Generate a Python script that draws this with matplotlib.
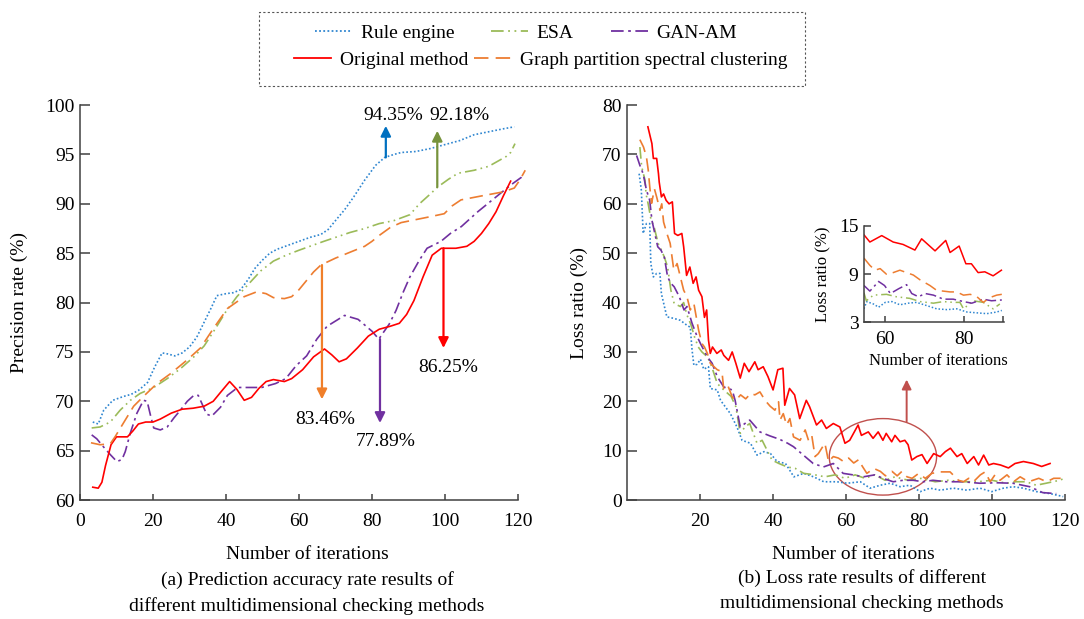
import matplotlib
matplotlib.use("Agg")
import matplotlib.pyplot as plt
from matplotlib.lines import Line2D
from matplotlib.patches import Ellipse, Rectangle

plt.rcParams['font.family'] = ['Liberation Serif', 'DejaVu Serif']
plt.rcParams['font.size'] = 14

# ---- colours / styles of the five methods ----
names = ['Rule engine', 'ESA', 'GAN-AM', 'Original method', 'Graph partition spectral clustering']
colors = ['#2f86d0', '#9BBB59', '#7030A0', '#FF0000', '#ED7D31']
styles = [(0, (1, 1.3)), (0, (7, 2.5, 1, 2.5, 1, 2.5)), (0, (7, 2.5, 1.5, 2.5)), '-', (0, (8, 4))]

# ---- (a) precision rate ----
it_rule = [3.5, 5, 6.5, 9, 12, 14, 16, 18.5, 20.5, 22.5, 24, 26, 28, 30, 32, 34, 36, 37.5, 40, 42,
           44, 46, 48, 50, 52, 54, 57, 60, 63, 66, 68, 70, 72.5, 75, 78, 81, 83.5, 86, 88, 92, 96,
           100, 104, 108, 112, 116, 119]
rule = [67.9, 67.7, 69.1, 70.1, 70.5, 70.7, 71.1, 71.9, 73.5, 74.9, 74.8, 74.6, 74.9, 75.5, 76.5,
        78.0, 79.5, 80.7, 80.9, 81.0, 81.3, 82.3, 83.5, 84.3, 85.0, 85.4, 85.8, 86.2, 86.6, 86.9,
        87.4, 88.3, 89.4, 90.7, 92.4, 93.9, 94.7, 95.0, 95.2, 95.3, 95.6, 96.0, 96.4, 97.0, 97.3,
        97.6, 97.8]

it_esa = [3.2, 5.5, 8.3, 11, 13.8, 16.5, 20.2, 23.9, 27.5, 31.2, 34, 37, 40, 43, 46, 49.5, 53,
          56.5, 60, 63, 66.8, 70, 74, 78, 82, 86, 90.4, 93, 96, 98, 101, 103.6, 108, 112, 116.8,
          118, 119.2]
esa = [67.3, 67.4, 67.9, 69.1, 70.1, 70.8, 71.4, 72.3, 73.3, 74.5, 75.6, 77.3, 79.1, 80.6, 81.8,
       83.2, 84.2, 84.8, 85.3, 85.7, 86.2, 86.6, 87.1, 87.5, 88.0, 88.3, 88.9, 90.0, 91.0, 91.7,
       92.5, 93.1, 93.4, 93.8, 94.8, 95.2, 96.1]

it_gan = [3.2, 4.6, 6.4, 8.3, 10.1, 11.5, 12.4, 13.8, 15.6, 17.4, 18.4, 19.3, 20.2, 22, 23.9, 25.7,
          27.5, 29.4, 31.2, 32.4, 34.7, 36.1, 38.5, 40.4, 43.2, 46, 49.8, 53.6, 56.4, 59.2, 62.1,
          64.9, 67.7, 72.5, 76.2, 80, 81.9, 82.8, 84.7, 86.6, 88.5, 90.4, 93, 95.1, 98.9, 101.5,
          104.5, 109, 114, 118, 121]
gan = [66.6, 66.2, 65.4, 64.6, 63.9, 64.1, 64.9, 66.8, 68.8, 70.1, 70.0, 68.6, 67.3, 67.1, 67.4,
       68.3, 69.1, 70.0, 70.6, 70.6, 68.7, 68.5, 69.4, 70.6, 71.4, 71.4, 71.4, 71.8, 72.3, 73.6,
       74.6, 76.3, 77.6, 78.7, 78.3, 77.1, 76.3, 76.8, 77.8, 79.2, 81.0, 82.6, 84.3, 85.5, 86.2,
       87.0, 87.7, 89.2, 90.7, 91.9, 92.7]

it_orig = [3.5, 5, 6, 7, 8.5, 10, 11.5, 13, 14.5, 16, 18, 20, 22, 25, 28, 31, 34, 36.5, 38.5, 41,
           43, 45, 47, 49, 51, 53, 56, 58, 61, 64, 67, 69, 71, 73, 76, 79, 82, 85, 87.5, 89.5, 91.5,
           94, 96.5, 99, 103, 106, 108, 110, 112, 114, 116, 118]
orig = [61.3, 61.2, 61.8, 63.5, 65.6, 66.4, 66.4, 66.4, 67.0, 67.7, 67.9, 67.9, 68.2, 68.8, 69.2,
        69.3, 69.5, 70.0, 70.9, 72.0, 71.2, 70.1, 70.4, 71.3, 72.0, 72.2, 72.0, 72.3, 73.2, 74.5,
        75.3, 74.7, 74.0, 74.3, 75.4, 76.6, 77.3, 77.6, 77.9, 78.8, 80.2, 82.6, 84.8, 85.5, 85.5,
        85.7, 86.2, 87.0, 88.0, 89.2, 90.8, 92.3]

it_gp = [3.0, 5.5, 8.3, 9.6, 11.9, 14.7, 17.4, 21.1, 24.8, 29.4, 33, 36.6, 40.4, 45, 48.5, 51, 53,
         56, 58, 60, 62, 64, 66, 70, 74, 78, 80, 82, 85, 88, 92, 96, 99.8, 102, 104.4, 110, 115.8,
         119, 120.5, 122]
gp = [65.8, 65.6, 65.7, 66.4, 67.8, 69.5, 70.5, 71.8, 72.8, 74.2, 75.4, 77.4, 79.4, 80.6, 81.1,
      80.9, 80.5, 80.4, 80.6, 81.3, 82.2, 83.1, 83.8, 84.5, 85.1, 85.7, 86.2, 86.8, 87.6, 88.1,
      88.4, 88.7, 89.0, 89.8, 90.4, 90.8, 91.2, 91.6, 92.4, 93.4]

# annotated values: (x of arrow, y start, y tip, text x, text y, label, colour)
notes_a = [
    (83.8, 94.7, 97.9, 85.7, 98.9, '94.35%', '#0070C0'),
    (97.9, 91.7, 97.4, 104.1, 98.9, '92.18%', '#77933C'),
    (66.3, 83.8, 70.2, 67.3, 68.2, '83.46%', '#F07F2A'),
    (82.2, 76.3, 67.8, 83.8, 65.9, '77.89%', '#7030A0'),
    (99.6, 85.5, 75.4, 100.9, 73.4, '86.25%', '#FF0000'),
]

# ---- (b) loss ratio ----
it_rule_l = [3.3, 3.9, 4.4, 5.3, 6.2, 6.5, 7.2, 8.1, 9, 9.4, 10.9, 12.8, 14.6, 16.4, 17.3, 17.8,
             18.3, 19.2, 20.1, 21, 22.3, 22.8, 24.7, 25.6, 26.9, 28.3, 30.1, 31.5, 33.8, 35.6, 37.5,
             39.3, 41.1, 43.4, 45.7, 48.4, 51.1, 53.9, 57.5, 60.3, 63.9, 66.6, 69.4, 72.1, 74.8,
             77.5, 80.3, 83, 85.8, 89.4, 93.1, 96.7, 99.9, 103.1, 105.8, 108.6, 112.2, 115.9, 119.5]
rule_l = [66.1, 62.8, 54.0, 56.0, 56.0, 47.9, 45.2, 45.9, 45.9, 41.8, 37.1, 36.8, 36.4, 35.4, 35.0,
          30.4, 27.3, 27.5, 28.5, 26.5, 27.0, 22.6, 22.3, 20.2, 18.9, 17.5, 14.8, 12.1, 11.5, 9.1,
          9.8, 9.4, 7.8, 7.4, 4.7, 5.4, 4.7, 3.7, 3.7, 3.4, 3.7, 2.4, 3.0, 3.4, 2.7, 3.0, 1.7, 2.4,
          2.0, 2.4, 2.0, 2.4, 1.7, 2.4, 2.7, 2.4, 1.7, 1.3, 0.7]

it_esa_l = [3.5, 4, 4.9, 5.2, 5.8, 6.5, 7.5, 8.5, 9.5, 10.3, 11.1, 12, 12.9, 14.6, 15.5, 16.4, 17.5,
            18.5, 19.5, 20.5, 22, 23.2, 24.7, 26.5, 28.5, 29.8, 31, 32.3, 33.6, 35.6, 37, 39.7, 41.6,
            43.9, 46.1, 48.4, 51.5, 54.2, 57, 59.7, 62.5, 65.2, 67.9, 70.7, 73.4, 77, 80.7, 84.4,
            88, 92, 96, 100, 104, 106.5, 109.4, 112.1, 114.8, 118.5, 119.9]
esa_l = [71.5, 67.5, 64.8, 62.0, 59.9, 57.0, 55.0, 52.0, 50.5, 49.0, 47.2, 42.5, 39.8, 39.2, 40.0,
         37.5, 35.5, 33.0, 31.0, 30.0, 29.0, 27.0, 23.6, 22.3, 21.0, 18.9, 13.5, 14.8, 15.5, 11.5,
         12.1, 8.1, 7.4, 6.7, 6.4, 5.4, 5.1, 4.7, 5.1, 4.4, 5.1, 4.4, 5.1, 4.0, 4.7, 4.0, 4.4, 3.7,
         4.0, 3.7, 3.7, 4.0, 3.4, 3.7, 3.7, 3.0, 3.4, 4.0, 4.4]

it_gan_l = [2.6, 3.5, 4.4, 5.3, 6.2, 6.8, 7.6, 8.4, 9.3, 10.2, 11.1, 12, 12.9, 14.3, 15.6, 16.4,
            17.8, 19.2, 20.1, 22, 23.3, 24.7, 26.5, 28.8, 29.6, 31, 32.3, 33.6, 36.4, 39.1, 41.8,
            44, 45.6, 48.3, 51, 53.8, 56.5, 59.2, 61.9, 64.7, 67.9, 70.1, 72.9, 75.6, 78.4, 81.1,
            83.8, 87.5, 92, 96.6, 101.1, 105.7, 110.3, 113.9, 117.6]
gan_l = [69.8, 67.8, 66.1, 62.8, 60.7, 56.7, 54.0, 51.3, 50.6, 49.2, 45.2, 43.9, 43.2, 41.2, 38.5,
         39.2, 35.8, 33.1, 31.7, 29.0, 27.7, 25.0, 22.9, 22.3, 20.2, 14.8, 15.5, 16.2, 13.8, 13.0,
         12.3, 11.5, 10.8, 9.1, 7.4, 6.7, 7.4, 5.4, 5.1, 4.7, 5.1, 4.4, 3.7, 4.0, 4.0, 3.7, 4.0,
         3.7, 3.7, 3.4, 3.5, 3.4, 2.7, 1.5, 1.3]

it_orig_l = [5.7, 6.8, 7.2, 8.1, 8.6, 8.8, 9.4, 10, 10.7, 11.5, 12.4, 13, 13.9, 15, 15.5, 16.3, 17.2,
             18.1, 18.9, 19.6, 20.5, 21.2, 21.8, 22.3, 22.8, 23.4, 24.6, 25.8, 26.5, 27.8, 28.8,
             29.8, 31, 32.1, 33.4, 35, 35.9, 37.3, 38.6, 40, 41.3, 42.7, 43.2, 44.5, 45.9, 47.3,
             49.1, 50, 51.9, 53.3, 54.6, 56.5, 58.3, 59.7, 61, 63.3, 64.2, 66.1, 67.4, 68.8, 70.1,
             71, 72.5, 73.4, 74.8, 76.1, 77, 78, 79.4, 80.8, 82.2, 84, 85.8, 87.2, 88.6, 90.4, 91.7,
             93.2, 95, 96.3, 97.7, 99.1, 100.4, 102.3, 104.5, 106.3, 108.6, 111.3, 113.6, 115.9]
orig_l = [75.6, 72.2, 69.2, 69.2, 66.1, 64.4, 61.4, 62.0, 60.7, 60.0, 60.4, 54.0, 53.6, 54.0, 51.3,
          45.5, 47.2, 43.9, 45.2, 42.5, 41.2, 37.0, 38.5, 32.4, 29.7, 31.0, 29.7, 30.4, 29.3, 28.3,
          30.0, 27.7, 24.7, 27.7, 26.0, 28.0, 26.4, 27.0, 25.0, 22.3, 26.4, 26.7, 19.2, 22.6, 21.3,
          16.5, 20.2, 18.9, 15.2, 16.2, 14.5, 15.5, 14.8, 11.5, 12.1, 15.2, 13.1, 13.8, 12.5, 13.8,
          12.1, 13.5, 11.8, 13.1, 11.8, 12.1, 11.2, 8.1, 8.8, 9.2, 7.4, 9.4, 8.8, 9.8, 10.5, 8.8,
          9.4, 7.4, 8.8, 7.1, 9.1, 7.1, 7.4, 7.1, 6.5, 7.4, 7.8, 7.4, 6.8, 7.4]

it_gp_l = [3.5, 4.5, 5.3, 5.8, 6.2, 6.7, 7.5, 8.1, 9, 9.5, 10, 10.9, 11.8, 12.8, 13.7, 14.6, 15.5,
           16.4, 17.3, 18.3, 19.6, 20.5, 21.2, 22, 22.8, 24.7, 26, 26.5, 27.7, 28.8, 29.8, 31.1,
           32.5, 33.9, 35, 36.4, 37.8, 39.2, 40.5, 41.5, 41.9, 42.8, 43.7, 44.6, 45.6, 47.4, 48.8,
           49.7, 50.6, 51.5, 52.4, 54.2, 55.2, 56.5, 57.9, 59.3, 60.7, 62.1, 63.5, 64.4, 65.7,
           67.6, 69.4, 70.8, 72.6, 74, 75.3, 76.7, 78.1, 79.9, 81.7, 83.5, 85.8, 88.5, 90.8, 92.2,
           93.6, 94.9, 96.8, 98.1, 99.5, 100.8, 102.2, 104.1, 105.9, 107.7, 110, 112.8, 115,
           116.9, 118.8]
gp_l = [73.0, 71.5, 69.5, 66.8, 63.5, 60.1, 63.0, 61.4, 58.7, 60.0, 56.3, 54.0, 52.0, 46.6, 47.9,
        45.2, 42.5, 41.2, 38.5, 39.8, 34.4, 31.7, 31.0, 29.7, 27.7, 26.4, 26.0, 22.3, 23.0, 20.9,
        20.2, 21.3, 20.5, 21.6, 21.3, 21.9, 20.2, 19.0, 18.2, 19.9, 16.2, 17.5, 15.2, 16.5, 12.8,
        12.1, 14.2, 12.1, 13.1, 8.8, 9.4, 11.5, 7.8, 8.8, 8.5, 7.8, 8.5, 7.5, 8.2, 6.9, 5.4, 6.4,
        5.8, 4.9, 5.8, 4.9, 5.8, 4.7, 4.4, 5.4, 4.4, 5.4, 5.7, 5.7, 4.0, 3.7, 4.4, 3.7, 5.1, 5.7,
        3.7, 5.1, 4.0, 5.1, 3.7, 4.7, 3.7, 4.4, 3.7, 4.4, 4.4]

# ---- inset of (b), iterations 55-90 ----
in_it_rule = [54.7, 55.4, 57.1, 58.4, 60.1, 61.8, 63.8, 65.9, 68, 70.6, 73.1, 75.7, 78.2, 80.8,
              83.3, 85.8, 88.3, 89.6]
in_rule = [4.7, 5.6, 5.3, 4.9, 5.5, 5.6, 5.2, 5.4, 5.5, 5.1, 4.7, 4.6, 4.7, 4.3, 4.2, 4.1, 4.3, 4.5]
in_it_esa = [54.7, 55.3, 57.1, 60.4, 62.9, 66.3, 68.9, 72.3, 74.8, 77.3, 79, 79.9, 82.4, 84.9,
             87.4, 89.1]
in_esa = [6.7, 5.7, 6.4, 6.5, 6.2, 6.0, 5.6, 5.4, 5.6, 5.5, 5.5, 4.7, 5.7, 5.5, 4.7, 5.3]
in_it_gan = [54.7, 56.2, 58.4, 59.9, 61.4, 63.5, 65.5, 66.8, 68.5, 70.2, 72.3, 74.8, 77.3, 79.9,
             82, 84.9, 87, 89.6]
in_gan = [7.6, 6.9, 8.1, 7.6, 6.6, 7.2, 7.7, 6.6, 6.2, 6.6, 6.4, 5.9, 5.9, 5.6, 5.4, 5.9, 5.7, 5.8]
in_it_orig = [54.7, 56.2, 59.2, 62.1, 64.6, 67.6, 69.3, 72.7, 75.4, 76.5, 78.8, 80.5, 81.9, 83.6,
              85.3, 87.4, 89.5]
in_orig = [13.9, 13.0, 13.8, 13.0, 12.7, 12.0, 13.4, 11.9, 13.2, 11.7, 12.5, 10.3, 10.3, 9.2, 9.3,
           8.8, 9.5]
in_it_gp = [54.7, 56.2, 57.5, 58.8, 60.4, 62.1, 63.8, 65.5, 67.2, 68.9, 71.4, 73.1, 74.8, 76.5,
            78.2, 79.9, 81.6, 83.3, 84.9, 86.6, 88.3, 89.6]
in_gp = [11.0, 10.1, 9.5, 9.7, 9.0, 9.2, 9.5, 9.2, 8.9, 8.3, 7.6, 7.0, 6.9, 6.8, 6.8, 6.4, 6.5,
         6.2, 5.5, 6.1, 6.4, 6.5]


def style_axes(ax, ylen=7, xlen=4.5, xpad=9):
    for s in ['top', 'right']:
        ax.spines[s].set_visible(False)
    for s in ['left', 'bottom']:
        ax.spines[s].set_linewidth(1.1)
        ax.spines[s].set_color('#404040')
    ax.tick_params(axis='y', direction='in', length=ylen, width=1.1, color='#404040',
                   labelsize=14, pad=4)
    ax.tick_params(axis='x', direction='in', length=xlen, width=1.1, color='#404040',
                   labelsize=14, pad=xpad)


def arrow(ax, x, y0, y1, c, lw=1.6, scale=15):
    ax.annotate('', xy=(x, y1), xytext=(x, y0),
                arrowprops=dict(arrowstyle='-|>', color=c, lw=lw, mutation_scale=scale,
                                shrinkA=0, shrinkB=0))


fig = plt.figure(figsize=(10.84, 6.19), dpi=100)

# ---------------- panel (a) ----------------
ax1 = fig.add_axes([0.0738, 0.1922, 0.404, 0.638])
series_a = [(it_rule, rule), (it_esa, esa), (it_gan, gan), (it_orig, orig), (it_gp, gp)]
for (xs, ys), c, ls in zip(series_a, colors, styles):
    ax1.plot(xs, ys, color=c, ls=ls, lw=1.2, clip_on=False)
ax1.set_xlim(0, 120)
ax1.set_ylim(60, 100)
ax1.set_xticks(range(0, 121, 20))
ax1.set_yticks(range(60, 101, 5))
style_axes(ax1)
ax1.set_ylabel('Precision rate (%)', fontsize=14)
ax1.yaxis.set_label_coords(-0.119, 0.5)

for x, y0, y1, tx, ty, lab, c in notes_a:
    arrow(ax1, x, y0, y1, c)
    ax1.text(tx, ty, lab, ha='center', va='center', fontsize=14)

# ---------------- panel (b) ----------------
ax2 = fig.add_axes([0.5785, 0.1922, 0.404, 0.638])
series_b = [(it_rule_l, rule_l), (it_esa_l, esa_l), (it_gan_l, gan_l), (it_orig_l, orig_l),
            (it_gp_l, gp_l)]
for (xs, ys), c, ls in zip(series_b, colors, styles):
    ax2.plot(xs, ys, color=c, ls=ls, lw=1.2, clip_on=False)
ax2.set_xlim(0, 120)
ax2.set_ylim(0, 80)
ax2.set_xticks(range(20, 121, 20))
ax2.set_yticks(range(0, 81, 10))
style_axes(ax2, ylen=7, xlen=4)
ax2.set_ylabel('Loss ratio (%)', fontsize=14)
ax2.yaxis.set_label_coords(-0.089, 0.5)

ax2.add_patch(Ellipse((70.1, 8.75), 29.4, 15.5, fill=False, ec='#C0504D', lw=1.0))
arrow(ax2, 76.6, 15.9, 24.4, '#C0504D', lw=1.4, scale=14)

# inset
ax3 = fig.add_axes([0.797, 0.479, 0.129, 0.156])
series_in = [(in_it_rule, in_rule), (in_it_esa, in_esa), (in_it_gan, in_gan),
             (in_it_orig, in_orig), (in_it_gp, in_gp)]
for (xs, ys), c, ls in zip(series_in, colors, styles):
    ax3.plot(xs, ys, color=c, ls=ls, lw=1.1)
ax3.set_xlim(54.7, 90.1)
ax3.set_ylim(3, 15)
ax3.set_xticks([60, 80])
ax3.set_xticks([90], minor=True)
ax3.set_yticks([3, 9, 15])
style_axes(ax3, ylen=5, xlen=4, xpad=6)
ax3.tick_params(axis='x', which='minor', direction='in', length=4, width=1.1, color='#404040')
ax3.set_ylabel('Loss ratio (%)', fontsize=12)
ax3.yaxis.set_label_coords(-0.236, 0.5)

# ---------------- labels / captions ----------------
fig.text(0.2832, 0.1034, 'Number of iterations', ha='center', va='center', fontsize=14)
fig.text(0.2835, 0.063, '(a) Prediction accuracy rate results of', ha='center', va='center', fontsize=14)
fig.text(0.2830, 0.021, 'different multidimensional checking methods', ha='center', va='center', fontsize=14)
fig.text(0.787, 0.1034, 'Number of iterations', ha='center', va='center', fontsize=14)
fig.text(0.795, 0.0662, '(b) Loss rate results of different', ha='center', va='center', fontsize=14)
fig.text(0.795, 0.0258, 'multidimensional checking methods', ha='center', va='center', fontsize=14)
fig.text(0.8653, 0.4168, 'Number of iterations', ha='center', va='center', fontsize=12)

# ---------------- legend ----------------
handles = [Line2D([], [], color=c, ls=ls, lw=1.3) for c, ls in zip(colors, styles)]
fig.legend(handles[:3], names[:3], ncol=3, loc='center', bbox_to_anchor=(0.4852, 0.9467),
           frameon=False, fontsize=14, handlelength=1.9, handletextpad=0.45,
           columnspacing=1.9, borderpad=0, borderaxespad=0)
fig.legend(handles[3:], names[3:], ncol=2, loc='center', bbox_to_anchor=(0.499, 0.903),
           frameon=False, fontsize=14, handlelength=1.9, handletextpad=0.45,
           columnspacing=0.3, borderpad=0, borderaxespad=0)
fig.patches.append(Rectangle((0.239, 0.861), 0.5037, 0.1195, transform=fig.transFigure,
                             fill=False, ec='#555555', lw=0.8, ls=(0, (2, 2))))

fig.savefig('out.png', dpi=100)
